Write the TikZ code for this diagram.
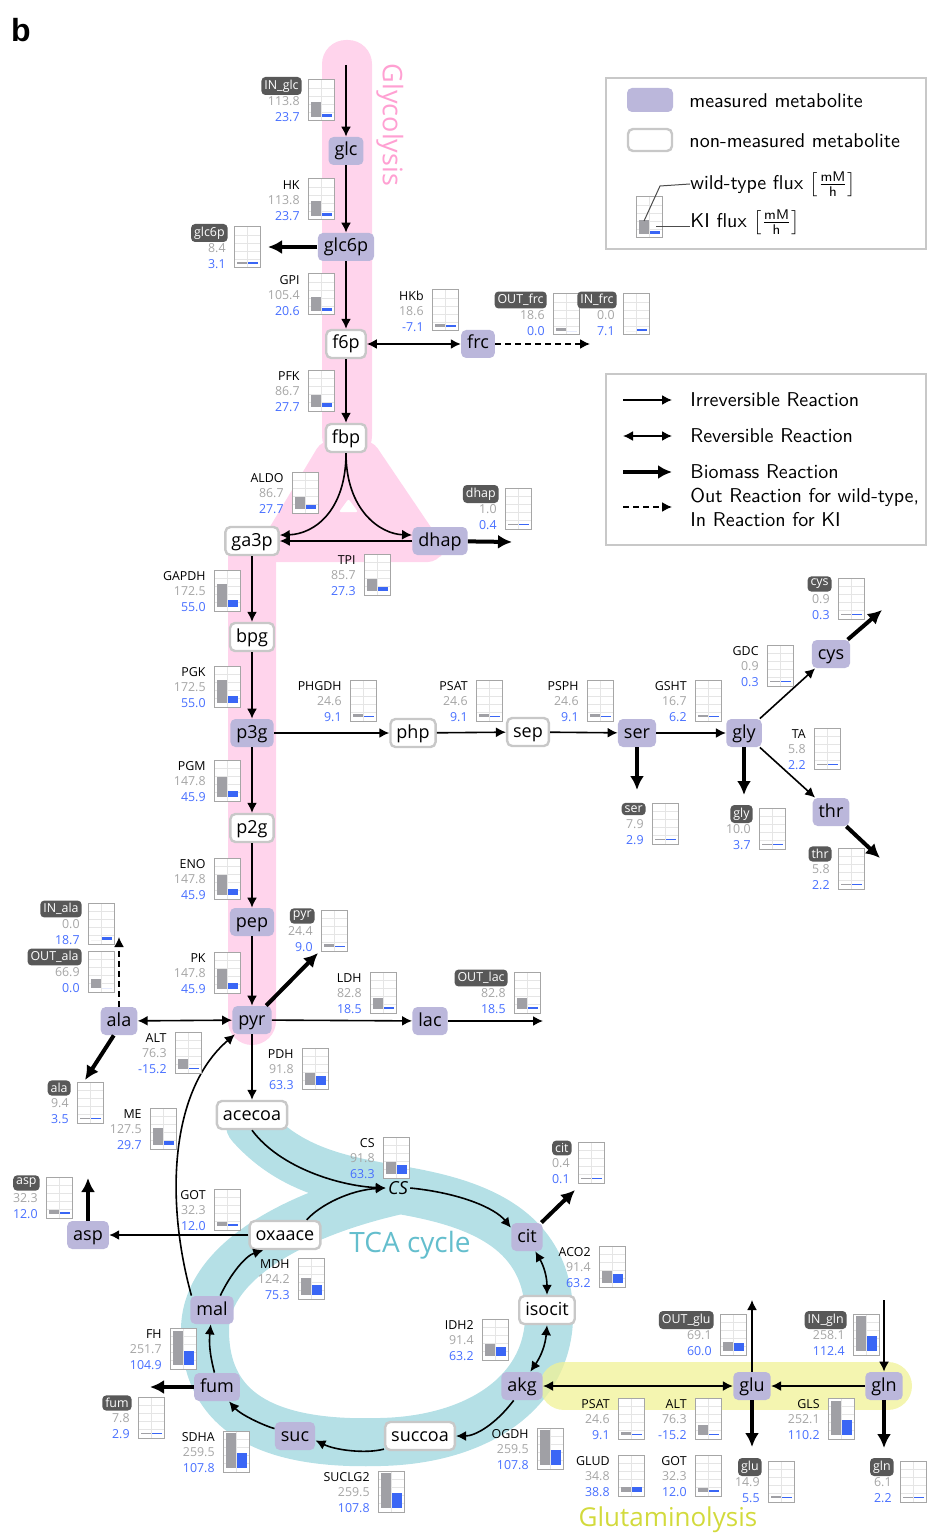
\documentclass[tikz,border=0pt]{standalone}
\usepackage{fontspec}
\setmainfont{Open Sans}
\newfontfamily\panelfont{Liberation Sans}
\usetikzlibrary{arrows.meta,calc}

\definecolor{measured}{RGB}{187,183,219}
\definecolor{nmborder}{RGB}{200,200,200}
\definecolor{glycopink}{RGB}{255,212,236}
\definecolor{glycotext}{RGB}{255,160,210}
\definecolor{tcacyan}{RGB}{181,224,230}
\definecolor{tcatext}{RGB}{100,190,205}
\definecolor{glnyellow}{RGB}{240,242,150}
\definecolor{glntext}{RGB}{210,218,60}
\definecolor{wtgray}{RGB}{160,160,165}
\definecolor{kiblue}{RGB}{58,102,245}
\definecolor{exgray}{RGB}{88,88,88}
\definecolor{numgray}{RGB}{165,165,165}
\definecolor{numblue}{RGB}{70,110,255}
\definecolor{frameline}{RGB}{200,200,200}

\tikzset{
  met/.style={fill=measured, rounded corners=2.5pt, minimum height=14pt,
    inner xsep=3pt, inner ysep=1.5pt, text height=7pt, text depth=2pt,
    font=\fontsize{9}{10}\selectfont},
  nmet/.style={met, fill=white, draw=nmborder, line width=1.2pt},
  rxn/.style={-{Latex[length=5pt,width=5pt]}, line width=0.8pt},
  rev/.style={{Latex[length=5pt,width=5pt]}-{Latex[length=5pt,width=5pt]}, line width=0.8pt},
  bio/.style={-{Latex[length=7pt,width=7pt]}, line width=2pt},
  exo/.style={rxn, dash pattern=on 3pt off 2pt},
  fluxname/.style={anchor=east, inner sep=0pt, font=\fontsize{6.2}{7}\selectfont},
  exname/.style={fluxname, fill=exgray, text=white, rounded corners=2pt,
    inner xsep=1.5pt, inner ysep=1.4pt, xshift=1pt},
  wtnum/.style={fluxname, text=numgray},
  kinum/.style={fluxname, text=numblue},
  chartgrid/.style={draw=black!10, line width=0.3pt},
  chartframe/.style={draw=black!35, line width=0.5pt},
  legendtext/.style={anchor=west, inner sep=0pt, font=\sffamily\fontsize{10}{12}\selectfont},
}

% flux chart: [label style]{id}{left}{top}{label}{wild-type}{KI}
\newcommand{\flux}[7][fluxname]{%
  \pgfmathsetmacro\hwt{ifthenelse(#6>0,max(#6*0.135,1.5),0)}%
  \pgfmathsetmacro\hki{ifthenelse(#7>0,max(#7*0.135,1.5),ifthenelse(#7<0,1.5,0))}%
  \fill[white] (#3,#4) rectangle ++(26,41);
  \foreach \gy in {8,16,24,32} {\draw[chartgrid] (#3,#4+\gy) -- ++(26,0);}
  \draw[chartgrid] (#3+13,#4) -- ++(0,41);
  \fill[wtgray] (#3+2.5,#4+37) rectangle ++(10.5,-\hwt);
  \fill[kiblue] (#3+14,#4+37) rectangle ++(10,-\hki);
  \draw[chartframe] (#3,#4) rectangle ++(26,41);
  \node[#1] (#2-n) at (#3-8,#4+6) {#5};
  \node[wtnum] (#2-w) at (#3-8,#4+21.5) {#6};
  \node[kinum] (#2-k) at (#3-8,#4+37) {#7};
}

\begin{document}
\begin{tikzpicture}[x=0.5pt,y=-0.5pt]
\useasboundingbox (0,0) rectangle (930,1535);

% pathway bands
\fill[glycopink, rounded corners=12pt] (322,40) rectangle (372,460);
\fill[glycopink, rounded corners=5pt] (322,440) -- (372,440) -- (445,548) -- (438,562)
  -- (262,562) -- (262,540) -- cycle;
\fill[white, rounded corners=1pt] (339,512) -- (358,512) -- (348.5,499) -- cycle;
\fill[glycopink, rounded corners=12pt] (228,530) rectangle (276,1045);
\node[text=glycotext, rotate=-90, font=\fontsize{13.5}{15}\selectfont] (glycolabel) at (390,125) {Glycolysis};

\draw[tcacyan, line width=24pt, line cap=round, line join=round]
  (250,1125) .. controls (290,1170) and (340,1180) .. (400,1190)
  .. controls (470,1202) and (545,1225) .. (549,1310)
  .. controls (552,1390) and (480,1440) .. (380,1442)
  .. controls (280,1445) and (205,1420) .. (205,1330)
  .. controls (205,1260) and (300,1212) .. (400,1190);
\node[text=tcatext, font=\fontsize{14}{16}\selectfont] (tcalabel) at (410,1245) {TCA cycle};

\draw[glnyellow, opacity=0.75, line width=24pt, line cap=round] (564,1386) -- (888,1386);
\node[text=glntext, font=\fontsize{13}{15}\selectfont] (glnlabel) at (668,1520) {Glutaminolysis};

\node[font=\panelfont\bfseries\fontsize{16}{18}\selectfont] (panel) at (21,30) {b};

% metabolites
\node[met]  (glc)    at (346,151)  {glc};
\node[met]  (glc6p)  at (346,247)  {glc6p};
\node[nmet] (f6p)    at (346,344)  {f6p};
\node[met]  (frc)    at (478,344)  {frc};
\node[nmet] (fbp)    at (346,438)  {fbp};
\node[nmet] (ga3p)   at (252,541)  {ga3p};
\node[met]  (dhap)   at (440,541)  {dhap};
\node[nmet] (bpg)    at (252,637)  {bpg};
\node[met]  (p3g)    at (252,733)  {p3g};
\node[nmet] (php)    at (413,733)  {php};
\node[nmet] (sep)    at (528,732)  {sep};
\node[met]  (ser)    at (637,733)  {ser};
\node[met]  (gly)    at (744,733)  {gly};
\node[met]  (cys)    at (831,654)  {cys};
\node[met]  (thr)    at (831,812)  {thr};
\node[nmet] (p2g)    at (252,828)  {p2g};
\node[met]  (pep)    at (252,922)  {pep};
\node[met]  (pyr)    at (252,1020) {pyr};
\node[met]  (ala)    at (119,1021) {ala};
\node[met]  (lac)    at (430,1021) {lac};
\node[nmet] (acecoa) at (252,1115) {acecoa};
\node[font=\fontsize{9}{10}\selectfont\itshape, inner sep=1pt] (csnode) at (398,1188) {CS};
\node[met]  (cit)    at (527,1237) {cit};
\node[nmet] (isocit) at (547,1310) {isocit};
\node[met]  (akg)    at (522,1386) {akg};
\node[nmet] (succoa) at (420,1436) {succoa};
\node[met]  (suc)    at (295,1436) {suc};
\node[met]  (fum)    at (217,1387) {fum};
\node[met]  (mal)    at (212,1310) {mal};
\node[nmet] (oxaace) at (285,1235) {oxaace};
\node[met]  (asp)    at (88,1235)  {asp};
\node[met]  (glu)    at (752,1386) {glu};
\node[met]  (gln)    at (884,1386) {gln};

% free ends
\coordinate (inglc)   at (346,65);
\coordinate (glc6pout) at (268,247);
\coordinate (frcout)  at (590,344);
\coordinate (dhapout) at (512,542);
\coordinate (serout)  at (637,790);
\coordinate (glyout)  at (744,795);
\coordinate (cysout)  at (882,610);
\coordinate (throut)  at (880,858);
\coordinate (pyrout)  at (318,953);
\coordinate (alain)   at (119,937);
\coordinate (alaout)  at (85,1080);
\coordinate (lacout)  at (543,1021);
\coordinate (citout)  at (575,1190);
\coordinate (fumout)  at (150,1387);
\coordinate (aspout)  at (88,1178);
\coordinate (glnin)   at (884,1300);
\coordinate (glnout)  at (884,1448);
\coordinate (gluup)   at (752,1300);
\coordinate (gludown) at (752,1447);

% glycolysis
\draw[rxn] (inglc) -- (glc);
\draw[rxn] (glc) -- (glc6p);
\draw[bio] (glc6p) -- (glc6pout);
\draw[rxn] (glc6p) -- (f6p);
\draw[rev] (f6p) -- (frc);
\draw[exo] (frc) -- (frcout);
\draw[rxn] (f6p) -- (fbp);
\draw[rxn] (fbp.south) .. controls (346,510) and (315,534) .. (ga3p.12);
\draw[rxn] (fbp.south) .. controls (346,510) and (380,534) .. (dhap.168);
\draw[rxn] (dhap) -- (ga3p);
\draw[bio] (dhap) -- (dhapout);
\draw[rxn] (ga3p) -- (bpg);
\draw[rxn] (bpg) -- (p3g);
\draw[rxn] (p3g) -- (p2g);
\draw[rxn] (p2g) -- (pep);
\draw[rxn] (pep) -- (pyr);

% serine branch
\draw[rxn] (p3g) -- (php);
\draw[rxn] (php) -- (sep);
\draw[rxn] (sep) -- (ser);
\draw[rxn] (ser) -- (gly);
\draw[bio] (ser) -- (serout);
\draw[bio] (gly) -- (glyout);
\draw[rxn] (gly) -- (cys);
\draw[bio] (cys) -- (cysout);
\draw[rxn] (gly) -- (thr);
\draw[bio] (thr) -- (throut);

% pyruvate
\draw[bio] (pyr) -- (pyrout);
\draw[rev] (pyr) -- (ala);
\draw[exo] (ala) -- (alain);
\draw[bio] (ala.250) -- (alaout);
\draw[rxn] (pyr) -- (lac);
\draw[rxn] (lac) -- (lacout);
\draw[rxn] (pyr) -- (acecoa);
\draw[rxn] (mal.145) .. controls (165,1200) and (170,1090) .. (pyr.220);

% TCA cycle
\draw[rxn] (acecoa.south) .. controls (280,1168) and (340,1186) .. (csnode.west);
\draw[rxn] (oxaace.35) .. controls (320,1205) and (350,1190) .. (csnode.west);
\draw[rxn] (csnode.east) .. controls (460,1193) and (495,1208) .. (cit.150);
\draw[bio] (cit.45) -- (citout);
\draw[rev] (cit.-60) to[bend left=15] (isocit.north);
\draw[rev] (isocit.south) to[bend left=15] (akg.60);
\draw[rxn] (akg.-120) .. controls (495,1425) and (475,1436) .. (succoa.east);
\draw[rxn] (succoa.200) .. controls (365,1454) and (335,1450) .. (suc.-12);
\draw[rxn] (suc.160) .. controls (262,1425) and (240,1414) .. (fum.-50);
\draw[rxn] (fum.100) to[bend left=10] (mal.-95);
\draw[bio] (fum) -- (fumout);
\draw[rxn] (mal.60) .. controls (230,1275) and (245,1256) .. (oxaace.-145);
\draw[rxn] (oxaace) -- (asp);
\draw[bio] (asp) -- (aspout);

% glutaminolysis
\draw[rev] (glu) -- (akg);
\draw[rxn] (gln) -- (glu);
\draw[rxn] (glnin) -- (gln);
\draw[bio] (gln) -- (glnout);
\draw[rxn] (glu) -- (gluup);
\draw[bio] (glu) -- (gludown);

% fluxes
\flux[exname]{inglc}{308}{80}{IN\_glc}{113.8}{23.7}
\flux{hk}{308}{179}{HK}{113.8}{23.7}
\flux[exname]{glc6pbio}{234}{227}{glc6p}{8.4}{3.1}
\flux{gpi}{308}{274}{GPI}{105.4}{20.6}
\flux{hkb}{432}{290}{HKb}{18.6}{-7.1}
\flux[exname]{outfrc}{553}{294}{OUT\_frc}{18.6}{0.0}
\flux[exname]{infrc}{623}{294}{IN\_frc}{0.0}{7.1}
\flux{pfk}{308}{370}{PFK}{86.7}{27.7}
\flux{aldo}{292}{472}{ALDO}{86.7}{27.7}
\flux[exname]{dhapbio}{505}{488}{dhap}{1.0}{0.4}
\flux{tpi}{364}{554}{TPI}{85.7}{27.3}
\flux{gapdh}{214}{570}{GAPDH}{172.5}{55.0}
\flux{pgk}{214}{666}{PGK}{172.5}{55.0}
\flux{phgdh}{350}{680}{PHGDH}{24.6}{9.1}
\flux{psat}{476}{680}{PSAT}{24.6}{9.1}
\flux{psph}{587}{680}{PSPH}{24.6}{9.1}
\flux{gsht}{695}{680}{GSHT}{16.7}{6.2}
\flux{gdc}{767}{645}{GDC}{0.9}{0.3}
\flux[exname]{cysbio}{838}{578}{cys}{0.9}{0.3}
\flux{ta}{814}{728}{TA}{5.8}{2.2}
\flux[exname]{serbio}{652}{803}{ser}{7.9}{2.9}
\flux[exname]{glybio}{759}{808}{gly}{10.0}{3.7}
\flux[exname]{thrbio}{838}{848}{thr}{5.8}{2.2}
\flux{pgm}{214}{760}{PGM}{147.8}{45.9}
\flux{eno}{214}{858}{ENO}{147.8}{45.9}
\flux[exname]{inala}{88}{903}{IN\_ala}{0.0}{18.7}
\flux[exname]{outala}{88}{951}{OUT\_ala}{66.9}{0.0}
\flux[exname]{pyrbio}{321}{910}{pyr}{24.4}{9.0}
\flux{pk}{214}{952}{PK}{147.8}{45.9}
\flux{ldh}{370}{972}{LDH}{82.8}{18.5}
\flux[exname]{outlac}{514}{972}{OUT\_lac}{82.8}{18.5}
\flux{altpyr}{175}{1032}{ALT}{76.3}{-15.2}
\flux{pdh}{302}{1048}{PDH}{91.8}{63.3}
\flux[exname]{alabio}{77}{1082}{ala}{9.4}{3.5}
\flux{me}{150}{1108}{ME}{127.5}{29.7}
\flux{cs}{383}{1137}{CS}{91.8}{63.3}
\flux[exname]{aspbio}{46}{1177}{asp}{32.3}{12.0}
\flux{gotasp}{214}{1189}{GOT}{32.3}{12.0}
\flux{mdh}{298}{1258}{MDH}{124.2}{75.3}
\flux{fh}{170}{1328}{FH}{251.7}{104.9}
\flux[exname]{fumbio}{138}{1397}{fum}{7.8}{2.9}
\flux{sdha}{223}{1431}{SDHA}{259.5}{107.8}
\flux{suclg}{378}{1471}{SUCLG2}{259.5}{107.8}
\flux[exname]{citbio}{578}{1142}{cit}{0.4}{0.1}
\flux{aco}{599}{1246}{ACO2}{91.4}{63.2}
\flux{idh}{482}{1319}{IDH2}{91.4}{63.2}
\flux{ogdh}{537}{1428}{OGDH}{259.5}{107.8}
\flux{psatglu}{618}{1398}{PSAT}{24.6}{9.1}
\flux{glud}{618}{1455}{GLUD}{34.8}{38.8}
\flux{altglu}{695}{1398}{ALT}{76.3}{-15.2}
\flux{gotglu}{695}{1455}{GOT}{32.3}{12.0}
\flux[exname]{outglu}{720}{1314}{OUT\_glu}{69.1}{60.0}
\flux[exname]{ingln}{853}{1314}{IN\_gln}{258.1}{112.4}
\flux{gls}{828}{1398}{GLS}{252.1}{110.2}
\flux[exname]{glubio}{768}{1461}{glu}{14.9}{5.5}
\flux[exname]{glnbio}{900}{1461}{gln}{6.1}{2.2}

% legend: metabolites and fluxes
\draw[frameline, line width=0.7pt] (606,78) rectangle (926,249);
\fill[measured, rounded corners=2.5pt] (627,88) rectangle (673,112);
\draw[nmborder, fill=white, line width=1.2pt, rounded corners=2.5pt] (628,129) rectangle (672,151);
\node[legendtext] (lgmeas) at (689,101) {measured metabolite};
\node[legendtext] (lgnmeas) at (689,141) {non-measured metabolite};
\fill[white] (636,197) rectangle ++(26,41);
\foreach \gy in {8,16,24,32} {\draw[chartgrid] (636,197+\gy) -- ++(26,0);}
\draw[chartgrid] (649,197) -- ++(0,41);
\fill[wtgray] (638.5,234) rectangle ++(10.5,-14);
\fill[kiblue] (650,234) rectangle ++(10,-3);
\draw[chartframe] (636,197) rectangle ++(26,41);
\coordinate (lgwtbar) at (644,221);
\coordinate (lgkibar) at (656,227);
\node[legendtext] (lgwt) at (690,184) {wild-type flux $\left[\frac{\mathsf{mM}}{\mathsf{h}}\right]$};
\node[legendtext] (lgki) at (690,222) {KI flux $\left[\frac{\mathsf{mM}}{\mathsf{h}}\right]$};
\draw[black!70, line width=0.5pt] (lgwtbar) -- (660,186) -- (lgwt.west);
\draw[black!70, line width=0.5pt] (lgkibar) -- (lgkibar -| lgki.west);

% legend: reactions
\draw[frameline, line width=0.7pt] (606,374) rectangle (926,545);
\coordinate (lgirra) at (623,400); \coordinate (lgirrb) at (672,400);
\coordinate (lgreva) at (623,436); \coordinate (lgrevb) at (672,436);
\coordinate (lgbioa) at (623,472); \coordinate (lgbiob) at (672,472);
\coordinate (lgexoa) at (623,507); \coordinate (lgexob) at (672,507);
\draw[rxn] (lgirra) -- (lgirrb);
\draw[rev] (lgreva) -- (lgrevb);
\draw[bio] (lgbioa) -- (lgbiob);
\draw[exo] (lgexoa) -- (lgexob);
\node[legendtext] (lgirr) at (690,400) {Irreversible Reaction};
\node[legendtext] (lgrev) at (690,436) {Reversible Reaction};
\node[legendtext] (lgbio) at (690,472) {Biomass Reaction};
\node[legendtext, align=left] (lgexo) at (690,507) {Out Reaction for wild-type,\\In Reaction for KI};
\end{tikzpicture}
\end{document}
